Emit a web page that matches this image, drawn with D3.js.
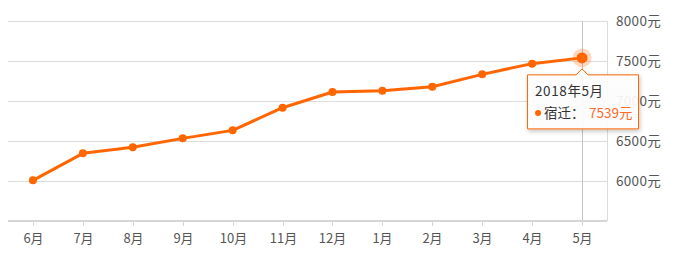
<!DOCTYPE html>
<meta charset="utf-8">
<style>
  body { margin: 0; background: #fff; }
  svg { font-family: "Noto Sans CJK SC", "Noto Sans", sans-serif; }
</style>
<svg width="675" height="253"></svg>
<script src="https://cdn.jsdelivr.net/npm/d3@7"></script>
<script>

var months = ["6月", "7月", "8月", "9月", "10月", "11月", "12月", "1月", "2月", "3月", "4月", "5月"];
var prices = [6008, 6346, 6421, 6533, 6633, 6916, 7112, 7129, 7179, 7333, 7467, 7539];
var yTicks = [6000, 6500, 7000, 7500, 8000];
var city = "宿迁";
var tipTitle = "2018年5月";

var svg = d3.select("svg"),
    margin = {top: 21, right: 68, bottom: 32, left: 8},
    width = +svg.attr("width") - margin.left - margin.right,
    height = +svg.attr("height") - margin.top - margin.bottom,
    g = svg.append("g").attr("transform", "translate(" + margin.left + "," + margin.top + ")");

var x = d3.scaleBand().domain(months).range([0, width]).padding(0);
var y = d3.scaleLinear().domain([5500, 8000]).range([height, 0]);

function cx(d) { return x(d) + x.bandwidth() / 2; }

// grid lines
g.append("g")
  .selectAll("line")
  .data(yTicks)
  .enter().append("line")
    .attr("x1", 0)
    .attr("x2", width)
    .attr("y1", function(d) { return Math.round(y(d)) + 0.5; })
    .attr("y2", function(d) { return Math.round(y(d)) + 0.5; })
    .attr("stroke", "#dcdcdc");

// right border
g.append("line")
    .attr("x1", width + 0.5).attr("x2", width + 0.5)
    .attr("y1", 0).attr("y2", height)
    .attr("stroke", "#dcdcdc");

// y labels
g.append("g")
  .selectAll("text")
  .data(yTicks)
  .enter().append("text")
    .attr("x", width + 9)
    .attr("y", function(d) { return y(d); })
    .attr("dy", "0.35em")
    .attr("fill", "#555")
    .attr("font-size", 13.5)
    .attr("letter-spacing", 0.3)
    .text(function(d) { return d + "元"; });

// crosshair on last month
var last = months.length - 1;
g.append("line")
    .attr("x1", Math.round(cx(months[last])) + 0.5)
    .attr("x2", Math.round(cx(months[last])) + 0.5)
    .attr("y1", 0).attr("y2", height)
    .attr("stroke", "#c4c4c4");

// x axis
var xAxis = g.append("g")
    .attr("transform", "translate(0," + height + ")");
xAxis.append("line")
    .attr("x1", 0).attr("x2", width)
    .attr("stroke", "#d6d6d6")
    .attr("stroke-width", 2);
var xt = xAxis.selectAll("g")
  .data(months)
  .enter().append("g")
    .attr("transform", function(d) { return "translate(" + (Math.round(cx(d)) + 0.5) + ",0)"; });
xt.append("line").attr("y1", 1).attr("y2", 5).attr("stroke", "#d6d6d6");
xt.append("text")
    .attr("y", 17)
    .attr("dy", "0.35em")
    .attr("text-anchor", "middle")
    .attr("fill", "#555")
    .attr("font-size", 13)
    .text(function(d) { return d; });

// line
var line = d3.line()
    .x(function(d, i) { return cx(months[i]); })
    .y(function(d) { return y(d); });

g.append("path")
    .datum(prices)
    .attr("d", line)
    .attr("fill", "none")
    .attr("stroke", "#ff6600")
    .attr("stroke-width", 3)
    .attr("stroke-linejoin", "round");

g.append("g")
  .selectAll("circle")
  .data(prices.slice(0, last))
  .enter().append("circle")
    .attr("cx", function(d, i) { return cx(months[i]); })
    .attr("cy", function(d) { return y(d); })
    .attr("r", 4)
    .attr("fill", "#ff6600");

// highlighted point
g.append("circle")
    .attr("cx", cx(months[last]))
    .attr("cy", y(prices[last]))
    .attr("r", 9.5)
    .attr("fill", "#ff6600")
    .attr("fill-opacity", 0.25);
g.append("circle")
    .attr("cx", cx(months[last]))
    .attr("cy", y(prices[last]))
    .attr("r", 5.5)
    .attr("fill", "#ff6600");

// tooltip
var defs = svg.append("defs");
var f = defs.append("filter").attr("id", "shadow").attr("x", "-20%").attr("y", "-20%").attr("width", "140%").attr("height", "150%");
f.append("feDropShadow").attr("dx", 1).attr("dy", 2).attr("stdDeviation", 2).attr("flood-color", "#000").attr("flood-opacity", 0.25);

var px = margin.left + cx(months[last]),
    py = margin.top + y(prices[last]);
var tw = 111, th = 54, tl = px - 55, tt = py + 16.5;
var tip = svg.append("g");
tip.append("path")
    .attr("d", "M" + (tl + 0.5) + "," + (tt + 0.5) +
               "H" + (px - 6) + "L" + px + "," + (tt - 5.5) + "L" + (px + 6) + "," + (tt + 0.5) +
               "H" + (tl + tw + 0.5) + "V" + (tt + th + 0.5) + "H" + (tl + 0.5) + "Z")
    .attr("fill", "#fff")
    .attr("fill-opacity", 0.9)
    .attr("stroke", "#ff6600")
    .attr("filter", "url(#shadow)");
tip.append("text")
    .attr("x", tl + 8)
    .attr("y", tt + 17)
    .attr("dy", "0.35em")
    .attr("fill", "#333")
    .attr("font-size", 13.5)
    .attr("letter-spacing", 0.6)
    .text(tipTitle);
tip.append("circle")
    .attr("cx", tl + 11)
    .attr("cy", tt + 38.5)
    .attr("r", 3)
    .attr("fill", "#ff6600");
tip.append("text")
    .attr("x", tl + 17)
    .attr("y", tt + 38.5)
    .attr("dy", "0.35em")
    .attr("fill", "#333")
    .attr("font-size", 13.5)
    .text(city + "：");
tip.append("text")
    .attr("x", tl + 62)
    .attr("y", tt + 38.5)
    .attr("dy", "0.35em")
    .attr("fill", "#ff6a2a")
    .attr("font-size", 13.5)
    .text(prices[last] + "元");

</script>
